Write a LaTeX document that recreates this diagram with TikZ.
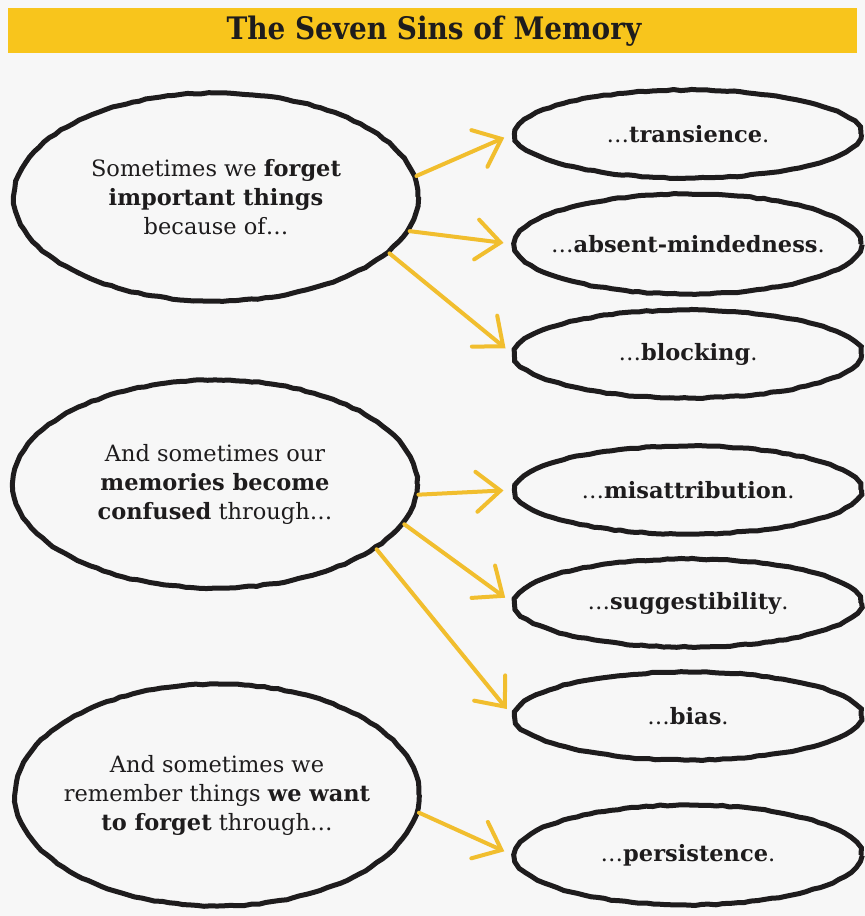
\documentclass[tikz,border=0pt]{standalone}
\usepackage{fontspec}
\setmainfont{DejaVu Serif}
\newfontfamily\titlefont{DejaVu Serif Condensed}
\usetikzlibrary{shapes.geometric,arrows.meta,decorations.pathmorphing}

\definecolor{bgray}{HTML}{F7F7F7}
\definecolor{barYellow}{HTML}{F8C51C}
\definecolor{arrYellow}{HTML}{F1BE2E}
\definecolor{inkBlack}{HTML}{1E1C1D}

\begin{document}
\begin{tikzpicture}[x=1pt,y=-1pt,
  bubble/.style={ellipse,draw=inkBlack,line width=5pt,inner ysep=0pt,inner xsep=-30pt,
    align=center,text=inkBlack,font=\fontsize{22.5}{29}\selectfont,
    decorate,decoration={random steps,segment length=7pt,amplitude=0.6pt}},
  cause/.style={bubble,minimum width=404pt,minimum height=208pt},
  sin/.style={bubble,minimum width=346pt,minimum height=88pt},
  arr/.style={draw=arrYellow,line width=4pt,line cap=round,shorten >=9pt,
    -{Straight Barb[length=24pt,width=40pt,line cap=round]}}]

\fill[bgray] (0,0) rectangle (865,916);
\useasboundingbox (0,0) rectangle (865,916);

\fill[barYellow] (8,8) rectangle (857,53);
\node[font=\titlefont\bfseries\fontsize{31}{32}\selectfont,text=inkBlack] (title) at (434,31) {The Seven Sins of Memory};

\node[cause] (forget) at (216,197) {Sometimes we \textbf{forget}\\\textbf{important things}\\because of\dots};
\node[cause] (confuse) at (215,484) {And sometimes our\\\textbf{memories become}\\\textbf{confused} through\dots};
\node[cause,minimum height=222pt] (remember) at (217,795) {And sometimes we\\remember things \textbf{we want}\\\textbf{to forget} through\dots};

\node[sin] (transience) at (688,134) {\dots\textbf{transience}.};
\node[sin,minimum height=100pt] (absent) at (688,244) {\dots\textbf{absent-mindedness}.};
\node[sin] (blocking) at (688,354) {\dots\textbf{blocking}.};
\node[sin] (misattr) at (688,490) {\dots\textbf{misattribution}.};
\node[sin] (suggest) at (688,603) {\dots\textbf{suggestibility}.};
\node[sin] (bias) at (688,716) {\dots\textbf{bias}.};
\node[sin,minimum height=100pt] (persist) at (688,855) {\dots\textbf{persistence}.};

\draw[arr] (forget.6) -- (transience.west);
\draw[arr] (forget.-10) -- (absent.west);
\draw[arr] (forget.-18) -- (blocking.west);
\draw[arr] (confuse.-3) -- (misattr.west);
\draw[arr] (confuse.-12) -- (suggest.west);
\draw[arr] (confuse.-22) -- (bias.west);
\draw[arr] (remember.-5) -- (persist.west);
\end{tikzpicture}
\end{document}
